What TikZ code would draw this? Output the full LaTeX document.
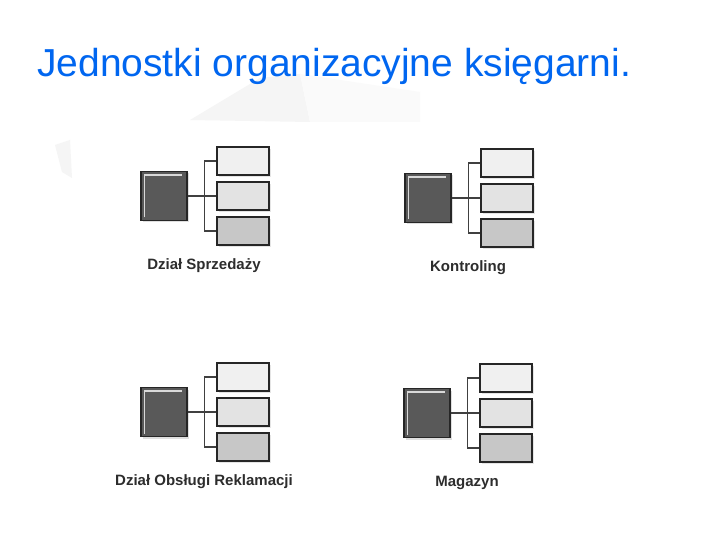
\documentclass[tikz,border=0pt]{standalone}
\usepackage{fontspec}
\setmainfont{Liberation Sans}
\usetikzlibrary{shadows}
\definecolor{titleblue}{RGB}{0,102,240}
\definecolor{labelgray}{RGB}{45,45,45}
\begin{document}
\begin{tikzpicture}[
		x=1pt, y=-1pt,
		main/.style={draw=black!85, line width=1.2pt, fill=black!65, minimum width=46pt, minimum height=49pt, inner sep=0pt,
			drop shadow={opacity=0.25, shadow xshift=2pt, shadow yshift=-2pt},
			path picture={\draw[black!15, line width=1.2pt] ([xshift=3.5pt,yshift=3pt]path picture bounding box.south west) |- ([xshift=-5pt,yshift=-3.5pt]path picture bounding box.north east);}},
		sub/.style={draw=black!85, line width=1.3pt, minimum width=52pt, minimum height=28pt, inner sep=0pt,
			drop shadow={opacity=0.2, shadow xshift=2pt, shadow yshift=-2pt}},
		link/.style={draw=black!75, line width=1.2pt},
		unit/.style={font=\bfseries\fontsize{15}{17}\selectfont, text=labelgray}
	]

	\useasboundingbox (0,0) rectangle (720,540);
	\fill[white] (0,0) rectangle (720,540);

	% faint background shapes
	\fill[black!4] (55,145) -- (70,140) -- (72,178) -- (62,172) -- cycle;
	\fill[black!4] (190,120) -- (260,78) -- (300,74) -- (310,122) -- cycle;
	\fill[black!2] (300,74) -- (420,92) -- (420,122) -- (310,122) -- cycle;

	\node[anchor=base west, inner sep=0pt, font=\fontsize{39}{44}\selectfont, text=titleblue] (title) at (37,77) {Jednostki organizacyjne księgarni.};

	\foreach \bx/\by/\name [count=\i] in {141/169/{Dział Sprzedaży}, 405/171/Kontroling, 141/385/{Dział Obsługi Reklamacji}, 404/386/Magazyn}{
		\node[main] (m\i) at (\bx+23, \by+27) {};
		\node[sub, fill=black!6] (s\i-1) at (\bx+102, \by-8) {};
		\node[sub, fill=black!11] (s\i-2) at (\bx+102, \by+27) {};
		\node[sub, fill=black!22] (s\i-3) at (\bx+102, \by+62) {};
		\draw[link] (s\i-1.west) -- ++(-12,0) |- (s\i-3.west);
		\draw[link] (m\i.east) -- (s\i-2.west);
		\node[unit] (l\i) at (\bx+63, \by+97) {\name};
	}

\end{tikzpicture}
\end{document}
